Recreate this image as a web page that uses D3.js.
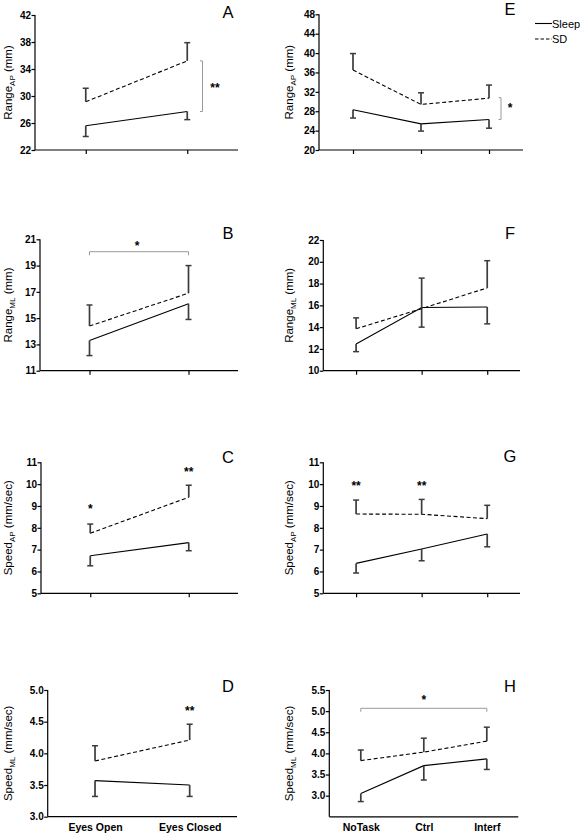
<!DOCTYPE html>
<html><head><meta charset="utf-8">
<script src="https://cdn.jsdelivr.net/npm/d3@7"></script>
<style>
html,body{margin:0;padding:0;background:#fff;}
svg{display:block;font-family:"Liberation Sans",Arial,sans-serif;}
</style></head>
<body>
<svg id="chart" width="584" height="835"></svg>
<script>
// ---------- DATA ----------
const catsEyes = ["Eyes Open", "Eyes Closed"];
const catsTask = ["NoTask", "Ctrl", "Interf"];
const seriesNames = ["Sleep", "SD"];

// A: Range AP (eyes)
const aSleep = [25.6, 27.7], aSleepErr = [24.0, 26.5];
const aSD = [29.15, 35.2], aSDErr = [31.15, 37.9];
const aTicks = [22, 26, 30, 34, 38, 42];
// B: Range ML (eyes)
const bSleep = [13.3, 16.1], bSleepErr = [12.15, 14.9];
const bSD = [14.4, 16.9], bSDErr = [16.0, 19.0];
const bTicks = [11, 13, 15, 17, 19, 21];
// C: Speed AP (eyes)
const cSleep = [6.72, 7.32], cSleepErr = [6.26, 6.95];
const cSD = [7.75, 9.4], cSDErr = [8.17, 9.95];
const cTicks = [5, 6, 7, 8, 9, 10, 11];
// D: Speed ML (eyes)
const dSleep = [3.57, 3.50], dSleepErr = [3.32, 3.32];
const dSD = [3.88, 4.21], dSDErr = [4.12, 4.46];
const dTicks = [3.0, 3.5, 4.0, 4.5, 5.0];
// E: Range AP (task)
const eSleep = [28.3, 25.4, 26.3], eSleepErr = [26.6, 23.9, 24.5];
const eSD = [36.5, 29.4, 30.7], eSDErr = [39.9, 31.8, 33.4];
const eTicks = [20, 24, 28, 32, 36, 40, 44, 48];
// F: Range ML (task)
const fSleep = [12.45, 15.8, 15.85], fSleepErr = [11.75, 14.0, 14.3];
const fSD = [13.85, 15.7, 17.6], fSDErr = [14.85, 18.5, 20.1];
const fTicks = [10, 12, 14, 16, 18, 20, 22];
// G: Speed AP (task)
const gSleep = [6.37, 7.03, 7.72], gSleepErr = [5.93, 6.49, 7.13];
const gSD = [8.63, 8.62, 8.42], gSDErr = [9.27, 9.3, 9.03];
const gTicks = [5, 6, 7, 8, 9, 10, 11];
// H: Speed ML (task)
const hSleep = [3.05, 3.71, 3.87], hSleepErr = [2.86, 3.37, 3.62];
const hSD = [3.83, 4.03, 4.29], hSDErr = [4.08, 4.36, 4.62];
const hTicks = [3.0, 3.5, 4.0, 4.5, 5.0, 5.5];

// ---------- DRAW ----------
const svg = d3.select("#chart");
const errColor = "#3c3c3c";
const bracketColor = "#9a9a9a";

function panel(cfg) {
  const g = svg.append("g");
  const x = d3.scalePoint().domain(cfg.cats).range([cfg.left, cfg.right]).padding(0.5);
  const y = d3.scaleLinear().domain(cfg.domain).range([cfg.bottom, cfg.top]);

  // y axis
  const ya = g.append("g").attr("transform", `translate(${cfg.left},0)`)
    .call(d3.axisLeft(y).tickValues(cfg.ticks).tickSize(3.5).tickPadding(0.5)
      .tickFormat(cfg.fmt ? d3.format(cfg.fmt) : d3.format("d")));
  ya.select(".domain").attr("stroke", "#000").attr("stroke-width", 1.2)
    .attr("d", `M0,${y(cfg.domain[0])}V${y(cfg.domain[1])}`);
  ya.selectAll(".tick line").attr("stroke", "#000").attr("stroke-width", 1.2);
  ya.selectAll("text").attr("font-size", 10).attr("font-weight", "bold").attr("fill", "#000");

  // x axis
  const xa = g.append("g").attr("transform", `translate(0,${cfg.bottom})`)
    .call(d3.axisBottom(x).tickSize(cfg.xLabels ? 0 : 4).tickPadding(cfg.xLabels ? 7 : 3)
      .tickFormat(cfg.xLabels ? (d => d) : ""));
  xa.select(".domain").attr("stroke", "#000").attr("stroke-width", 1.2)
    .attr("d", `M${cfg.left},0H${cfg.right}`);
  xa.selectAll(".tick line").attr("stroke", "#000").attr("stroke-width", 1.2);
  xa.selectAll("text").attr("font-size", 10.5).attr("font-weight", "bold").attr("fill", "#000");

  // y label with subscript
  const lbl = g.append("text")
    .attr("transform", `translate(${cfg.labelX},${(cfg.top + cfg.bottom) / 2}) rotate(-90)`)
    .attr("text-anchor", "middle").attr("font-size", 11.5).attr("fill", "#000");
  lbl.append("tspan").text(cfg.ylab[0]);
  lbl.append("tspan").text(cfg.ylab[1]).attr("font-size", 8).attr("dy", 2.5);
  lbl.append("tspan").text(" " + cfg.ylab[2]).attr("dy", -2.5);

  // panel letter
  g.append("text").attr("x", cfg.letterX).attr("y", cfg.top + cfg.letterDy)
    .attr("text-anchor", "middle").attr("font-size", 16.5).attr("fill", "#000").text(cfg.letter);

  const line = d3.line().x((d, i) => x(cfg.cats[i])).y(d => y(d));
  const series = [
    { vals: cfg.sleep, err: cfg.sleepErr, dash: null },
    { vals: cfg.sd, err: cfg.sdErr, dash: "4,2.5" }
  ];
  series.forEach(s => {
    g.append("path").datum(s.vals).attr("d", line).attr("fill", "none")
      .attr("stroke", "#000").attr("stroke-width", 1.1)
      .attr("stroke-dasharray", s.dash);
    s.vals.forEach((v, i) => {
      const cx = x(cfg.cats[i]);
      g.append("line").attr("x1", cx).attr("x2", cx).attr("y1", y(v)).attr("y2", y(s.err[i]))
        .attr("stroke", errColor).attr("stroke-width", 1.7);
      g.append("line").attr("x1", cx - 3).attr("x2", cx + 3).attr("y1", y(s.err[i])).attr("y2", y(s.err[i]))
        .attr("stroke", errColor).attr("stroke-width", 1.5);
    });
  });
  return { g, x, y };
}

function stars(p, xPos, yPos, txt) {
  p.g.append("text").attr("x", xPos).attr("y", yPos).attr("text-anchor", "middle")
    .attr("dominant-baseline", "central").attr("font-size", 12).attr("font-weight", "bold")
    .attr("fill", "#000").text(txt);
}
function vBracket(p, xPos, v1, v2) {
  const y1 = p.y(v1), y2 = p.y(v2);
  p.g.append("path").attr("d", `M${xPos - 2.5},${y1}H${xPos}V${y2}H${xPos - 2.5}`)
    .attr("fill", "none").attr("stroke", bracketColor).attr("stroke-width", 1);
}
function hBracket(p, c1, c2, yPx) {
  const x1 = p.x(c1), x2 = p.x(c2);
  p.g.append("path").attr("d", `M${x1},${yPx + 3.5}V${yPx}H${x2}V${yPx + 3.5}`)
    .attr("fill", "none").attr("stroke", bracketColor).attr("stroke-width", 1);
}

const pA = panel({ cats: catsEyes, left: 35, right: 238, top: 15, bottom: 150, domain: [22, 42], ticks: aTicks,
  sleep: aSleep, sleepErr: aSleepErr, sd: aSD, sdErr: aSDErr, ylab: ["Range", "AP", "(mm)"], labelX: 12,
  letter: "A", letterX: 228, letterDy: 3 });
vBracket(pA, 202.5, 35.2, 27.7);
stars(pA, 215, 88, "**");

const pB = panel({ cats: catsEyes, left: 40, right: 238, top: 239.3, bottom: 370.7, domain: [11, 21], ticks: bTicks,
  sleep: bSleep, sleepErr: bSleepErr, sd: bSD, sdErr: bSDErr, ylab: ["Range", "ML", "(mm)"], labelX: 12,
  letter: "B", letterX: 228, letterDy: 0 });
hBracket(pB, catsEyes[0], catsEyes[1], 251.7);
stars(pB, 137, 246, "*");

const pC = panel({ cats: catsEyes, left: 41, right: 238, top: 462.3, bottom: 593.3, domain: [5, 11], ticks: cTicks,
  sleep: cSleep, sleepErr: cSleepErr, sd: cSD, sdErr: cSDErr, ylab: ["Speed", "AP", "(mm/sec)"], labelX: 12,
  letter: "C", letterX: 228, letterDy: 1 });
stars(pC, pC.x(catsEyes[0]), 509, "*");
stars(pC, pC.x(catsEyes[1]), 472, "**");

const pD = panel({ cats: catsEyes, left: 47.7, right: 237, top: 690, bottom: 816.7, domain: [3, 5], ticks: dTicks, fmt: ".1f",
  sleep: dSleep, sleepErr: dSleepErr, sd: dSD, sdErr: dSDErr, ylab: ["Speed", "ML", "(mm/sec)"], labelX: 12,
  letter: "D", letterX: 228, letterDy: 2, xLabels: true });
stars(pD, pD.x(catsEyes[1]), 711, "**");

const pE = panel({ cats: catsTask, left: 319, right: 523, top: 14.3, bottom: 150, domain: [20, 48], ticks: eTicks,
  sleep: eSleep, sleepErr: eSleepErr, sd: eSD, sdErr: eSDErr, ylab: ["Range", "AP", "(mm)"], labelX: 293,
  letter: "E", letterX: 510, letterDy: 1 });
vBracket(pE, 501, 30.8, 26.3);
stars(pE, 510, 108, "*");

const pF = panel({ cats: catsTask, left: 323.3, right: 520, top: 240, bottom: 370.7, domain: [10, 22], ticks: fTicks,
  sleep: fSleep, sleepErr: fSleepErr, sd: fSD, sdErr: fSDErr, ylab: ["Range", "ML", "(mm)"], labelX: 293,
  letter: "F", letterX: 510, letterDy: -1 });

const pG = panel({ cats: catsTask, left: 323.3, right: 520, top: 462.3, bottom: 593.3, domain: [5, 11], ticks: gTicks,
  sleep: gSleep, sleepErr: gSleepErr, sd: gSD, sdErr: gSDErr, ylab: ["Speed", "AP", "(mm/sec)"], labelX: 293,
  letter: "G", letterX: 510, letterDy: 0 });
stars(pG, pG.x(catsTask[0]), 486, "**");
stars(pG, pG.x(catsTask[1]), 486, "**");

const pH = panel({ cats: catsTask, left: 329.3, right: 518.3, top: 690, bottom: 816.8, domain: [2.5, 5.5], ticks: hTicks, fmt: ".1f",
  sleep: hSleep, sleepErr: hSleepErr, sd: hSD, sdErr: hSDErr, ylab: ["Speed", "ML", "(mm/sec)"], labelX: 293,
  letter: "H", letterX: 510, letterDy: 2, xLabels: true });
hBracket(pH, catsTask[0], catsTask[2], 708.3);
stars(pH, pH.x(catsTask[1]), 700, "*");

// legend
const leg = svg.append("g");
seriesNames.forEach((n, i) => {
  const yy = 23.5 + i * 15.5;
  leg.append("line").attr("x1", 535).attr("x2", 552).attr("y1", yy).attr("y2", yy)
    .attr("stroke", "#000").attr("stroke-width", 1.1).attr("stroke-dasharray", i ? "3.5,2" : null);
  leg.append("text").attr("x", 552).attr("y", yy).attr("dominant-baseline", "central")
    .attr("font-size", 11).attr("fill", "#000").text(n);
});
</script>
</body></html>
